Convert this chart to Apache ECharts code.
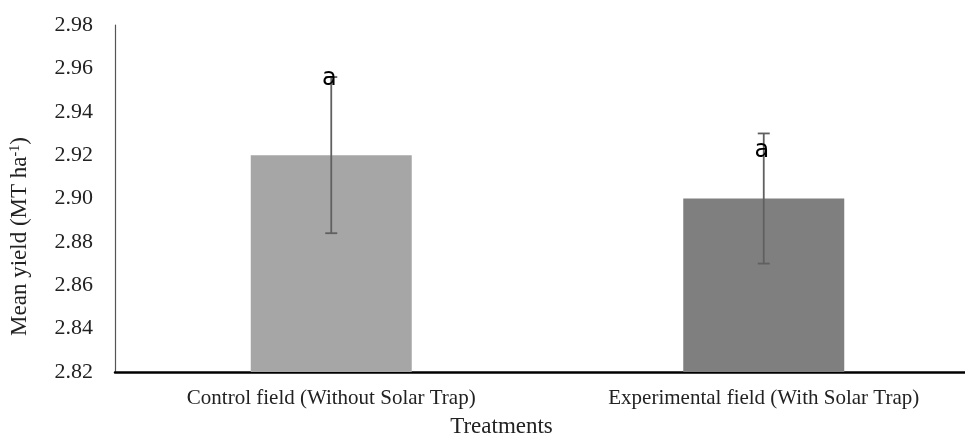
<!DOCTYPE html>
<html>
<head>
<meta charset="utf-8">
<script src="https://cdn.jsdelivr.net/npm/echarts@6/dist/echarts.min.js"></script>
<style>
  html, body { margin: 0; padding: 0; background: #fff; }
  #chart { width: 965px; height: 437px; }
</style>
</head>
<body>
<div id="chart"></div>
<script>
const categories = ['Control field (Without Solar Trap)', 'Experimental field (With Solar Trap)']
const meanYield = [2.920, 2.900]
const errLow = [2.884, 2.870]
const errHigh = [2.956, 2.930]
const letters = ['a', 'a']
const letterPos = [2.955, 2.922]
const barColors = ['#a6a6a6', '#7f7f7f']
const yTicks = ['2.82', '2.84', '2.86', '2.88', '2.90', '2.92', '2.94', '2.96', '2.98']

const chart = echarts.init(document.getElementById('chart'))

const option = {
  animation: false,
  grid: { left: 115, right: -15, top: 25, bottom: 65, outerBoundsMode: 'none', containLabel: false },
  xAxis: {
    type: 'category',
    data: categories,
    name: 'Treatments',
    nameLocation: 'middle',
    nameGap: 43,
    nameTextStyle: { fontFamily: 'Liberation Serif', fontSize: 23, color: '#222', padding: [0, 0, 0, -92] },
    axisLine: { lineStyle: { color: '#000', width: 2.5 } },
    axisTick: { show: false },
    axisLabel: { fontFamily: 'Liberation Serif', fontSize: 21, color: '#222', margin: 16 }
  },
  yAxis: {
    type: 'value',
    min: 2.82,
    max: 2.98,
    interval: 0.02,
    name: '{n|Mean yield (MT ha}{s|-1}{n|)}',
    nameLocation: 'middle',
    nameGap: 83,
    nameTextStyle: {
      padding: [0, 76, 0, 0],
      rich: {
        n: { fontFamily: 'Liberation Serif', fontSize: 23, color: '#222' },
        s: { fontFamily: 'Liberation Serif', fontSize: 14, color: '#222', verticalAlign: 'top', padding: [0, 0, 10, 0] }
      }
    },
    axisLine: { show: true, lineStyle: { color: '#555', width: 1.2 } },
    axisTick: { show: false },
    splitLine: { show: false },
    axisLabel: {
      fontFamily: 'Liberation Serif', fontSize: 22, color: '#222', margin: 22,
      formatter: (v) => yTicks[Math.round((v - 2.82) / 0.02)] || v.toFixed(2)
    }
  },
  series: [
    {
      type: 'bar',
      barWidth: 161,
      data: meanYield.map((v, i) => ({ value: v, itemStyle: { color: barColors[i] } }))
    },
    {
      type: 'custom',
      z: 5,
      data: categories.map((c, i) => [i, errLow[i], errHigh[i]]),
      renderItem: (params, api) => {
        const lo = api.coord([api.value(0), api.value(1)])
        const hi = api.coord([api.value(0), api.value(2)])
        const x = lo[0]
        const hw = 6
        const st = { stroke: '#606060', lineWidth: 1.8 }
        return {
          type: 'group',
          children: [
            { type: 'line', shape: { x1: x, y1: hi[1], x2: x, y2: lo[1] }, style: st },
            { type: 'line', shape: { x1: x - hw, y1: hi[1], x2: x + hw, y2: hi[1] }, style: st },
            { type: 'line', shape: { x1: x - hw, y1: lo[1], x2: x + hw, y2: lo[1] }, style: st }
          ]
        }
      }
    },
    {
      type: 'custom',
      z: 6,
      data: categories.map((c, i) => [i, letterPos[i]]),
      renderItem: (params, api) => {
        const p = api.coord([api.value(0), api.value(1)])
        return {
          type: 'text',
          style: {
            x: p[0] - 2, y: p[1],
            text: letters[params.dataIndex],
            fontFamily: 'DejaVu Sans', fontSize: 24, fill: '#000',
            align: 'center', verticalAlign: 'middle'
          }
        }
      }
    }
  ]
}

chart.setOption(option)
</script>
</body>
</html>
